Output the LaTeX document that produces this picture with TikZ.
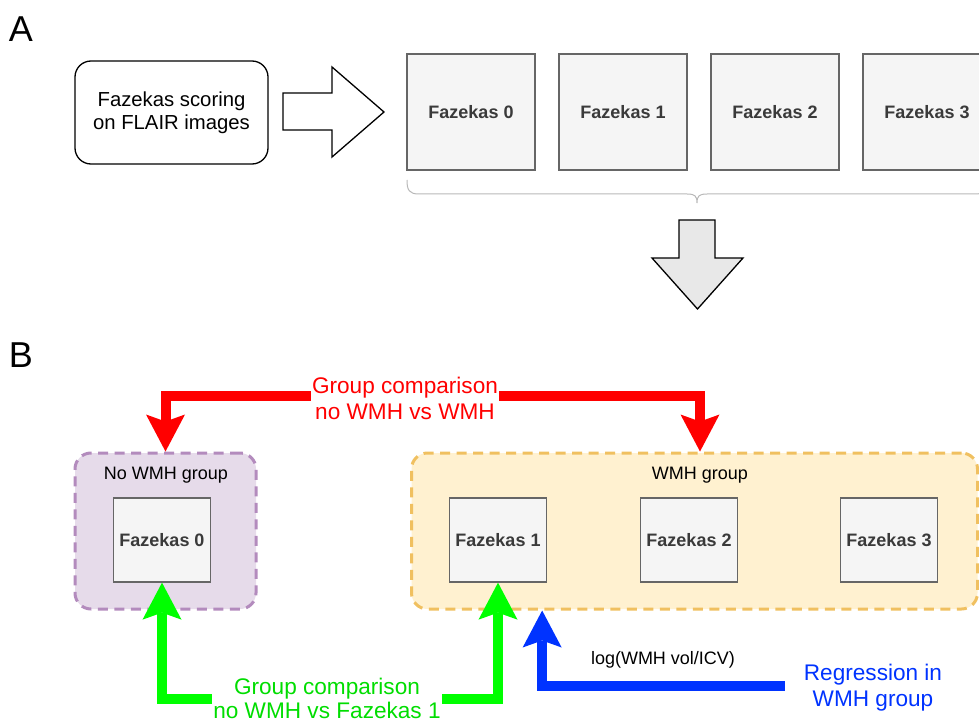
\documentclass[tikz,border=0pt]{standalone}
\usepackage{fontspec}
\setmainfont{Liberation Sans}
\usetikzlibrary{arrows.meta,calc}
\definecolor{boxline}{HTML}{666666}
\definecolor{boxfill}{HTML}{F5F5F5}
\definecolor{boxtext}{HTML}{3A3A3A}
\definecolor{purpfill}{HTML}{E6DBEA}
\definecolor{purpdraw}{HTML}{B38BBD}
\definecolor{yelfill}{HTML}{FFF1D0}
\definecolor{yeldraw}{HTML}{F0C060}
\definecolor{bracecol}{HTML}{B8B8B8}
\definecolor{arrowgray}{HTML}{E8E8E8}
\definecolor{cred}{HTML}{FF0000}
\definecolor{cgreen}{HTML}{00FF00}
\definecolor{cgreentext}{HTML}{00DD00}
\definecolor{cblue}{HTML}{0033FF}
\tikzset{
  fzbox/.style={draw=boxline, fill=boxfill, line width=1.3pt, text=boxtext,
    font=\fontsize{18}{20}\selectfont\bfseries, inner sep=0pt,
    minimum width=128pt, minimum height=116pt},
  fzsmall/.style={fzbox, minimum width=97pt, minimum height=84pt},
  grp/.style={dashed, dash pattern=on 10pt off 6.5pt, line width=3pt, rounded corners=16pt,
    inner sep=0pt, minimum height=156pt},
  grplabel/.style={font=\fontsize{18}{21}\selectfont, inner sep=1pt},
  biglabel/.style={font=\fontsize{22.6}{26}\selectfont, align=center, inner sep=1pt},
  fatarrow/.style={line width=10pt, -{Stealth[length=37pt,width=39pt,inset=7pt,line width=0pt]}},
  panel/.style={font=\fontsize{36}{40}\selectfont, inner sep=0pt},
}
\begin{document}
\begin{tikzpicture}[x=1pt,y=-1pt]
\useasboundingbox (0,0) rectangle (979,722);

% Panel letters
\node[panel] (pa) at (21,29.5) {A};
\node[panel] (pb) at (21,355) {B};

% Part A
\node[draw, line width=1.3pt, rounded corners=16pt, minimum width=193pt, minimum height=103pt,
  align=center, font=\fontsize{20.3}{23}\selectfont, inner sep=0pt] (scoring) at (171.5,112.5)
  {Fazekas scoring\\on FLAIR images};

\draw[line width=1.3pt, fill=white, line join=miter]
  (283,93) -- (332,93) -- (332,67) -- (384,112) -- (332,157) -- (332,130) -- (283,130) -- cycle;

\node[fzbox] (fz0) at (471,112) {Fazekas 0};
\node[fzbox] (fz1) at (623,112) {Fazekas 1};
\node[fzbox] (fz2) at (775,112) {Fazekas 2};
\node[fzbox] (fz3) at (927,112) {Fazekas 3};

\draw[bracecol, line width=1pt]
  (407,180) .. controls (407,190) and (409,194) .. (419,194) -- (687,194)
  .. controls (695,194) and (697,196) .. (697,203)
  .. controls (697,196) and (699,194) .. (707,194) -- (975,194)
  .. controls (985,194) and (987,190) .. (987,180);

\draw[line width=1.3pt, fill=arrowgray, line join=miter]
  (679,220) -- (715,220) -- (715,258) -- (743,258) -- (697.5,309) -- (652,258) -- (679,258) -- cycle;

% Part B groups
\node[grp, fill=purpfill, draw=purpdraw, minimum width=181pt] (nowmh) at (165.5,531) {};
\node[grp, fill=yelfill, draw=yeldraw, minimum width=566pt] (wmh) at (694.5,531) {};
\node[grplabel] (nowmhlab) at (166,475) {No WMH group};
\node[grplabel] (wmhlab) at (700,475) {WMH group};

\node[fzsmall] (fz0b) at (162,540) {Fazekas 0};
\node[fzsmall] (fz1b) at (498,540) {Fazekas 1};
\node[fzsmall] (fz2b) at (689,540) {Fazekas 2};
\node[fzsmall] (fz3b) at (889,540) {Fazekas 3};

% Labels
\node[biglabel, text=cred] (redlab) at (405,398) {Group comparison\\no WMH vs WMH};
\node[biglabel, text=cgreentext, font=\fontsize{22.6}{24}\selectfont] (greenlab) at (327,698.5) {Group comparison\\no WMH vs Fazekas 1};
\node[biglabel, text=cblue] (bluelab) at (873,688) {Regression in\\WMH group};
\node[font=\fontsize{18}{20}\selectfont, inner sep=1pt] (loglab) at (663,660) {log(WMH vol/ICV)};

% Connectors
\coordinate (redend) at ([xshift=5.5pt]wmh.north);
\draw[fatarrow, cred] ([yshift=2pt]redlab.west) -| (nowmh.north);
\draw[fatarrow, cred] ([yshift=2pt]redlab.east) -| (redend);
\draw[fatarrow, cgreen] (greenlab.west) -| (fz0b.south);
\draw[fatarrow, cgreen] (greenlab.east) -| (fz1b.south);
\coordinate (blueend) at ([xshift=-5pt]fz1b.south east |- wmh.south);
\draw[fatarrow, cblue] ([xshift=-18pt,yshift=2pt]bluelab.west) -| (blueend);
\end{tikzpicture}
\end{document}
